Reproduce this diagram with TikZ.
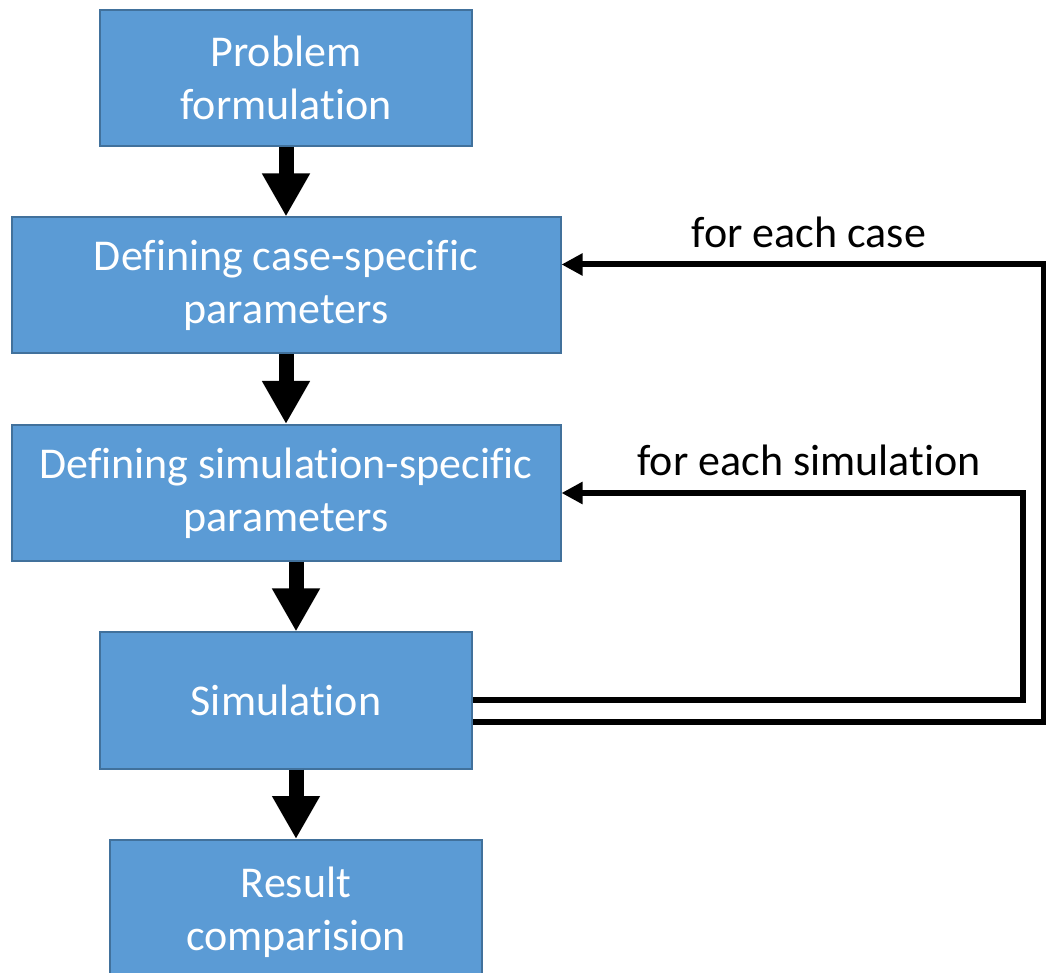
\documentclass[tikz,border=0pt]{standalone}
\usepackage{fontspec}
\setmainfont{Carlito}[Ligatures=NoCommon]
\usetikzlibrary{arrows.meta,positioning}
\definecolor{boxfill}{HTML}{5B9BD5}
\definecolor{boxline}{HTML}{41719C}
\begin{document}
\begin{tikzpicture}[x=0.5pt,y=-0.5pt,node distance=103.75pt,
        main node/.style={draw=boxline,line width=1pt,fill=boxfill,text=white,align=center,
            minimum height=68pt,font=\fontsize{22}{26.5}\selectfont},
        narrow/.style={main node,minimum width=186pt},
        wide/.style={main node,minimum width=274.5pt},
        flow/.style={line width=7.5pt,-{Triangle[width=22.5pt,length=21.5pt]}},
        back/.style={line width=3pt,-{Triangle[width=10.5pt,length=10.5pt]}},
        note/.style={font=\fontsize{22}{26.5}\selectfont}]

        \useasboundingbox (0,0) rectangle (1046,973);

        % Define boxes
        \node[narrow] (prob) at (286,78) {Problem\\formulation};
        \node[wide] (case) [below of=prob] {Defining case-specific\\parameters};
        \node[wide] (spec) [below of=case] {Defining simulation-specific\\parameters};
        \node[narrow] (sim) [below of=spec] {Simulation};
        \node[narrow,minimum height=72pt] (res) [below of=sim,xshift=5pt,yshift=-2pt] {Result\\comparision};

        % Loop labels
        \node[note] (casetxt) at (809,232) {for each case};
        \node[note] (simtxt) at (809,460) {for each simulation};

        % Draw arrows
        \draw[flow] (prob.south) -- (case.north);
        \draw[flow] (case.south) -- (spec.north);
        \draw[flow] (res.north |- spec.south) -- (res.north |- sim.north);
        \draw[flow] (res.north |- sim.south) -- (res.north);

        % Feedback loops
        \draw[back] (sim.east) -- ++(550,0) |- (spec.east);
        \draw[back] ([yshift=-11pt]sim.east) -- ++(571,0) |- ([yshift=10.5pt]case.east);

        \end{tikzpicture}
\end{document}
